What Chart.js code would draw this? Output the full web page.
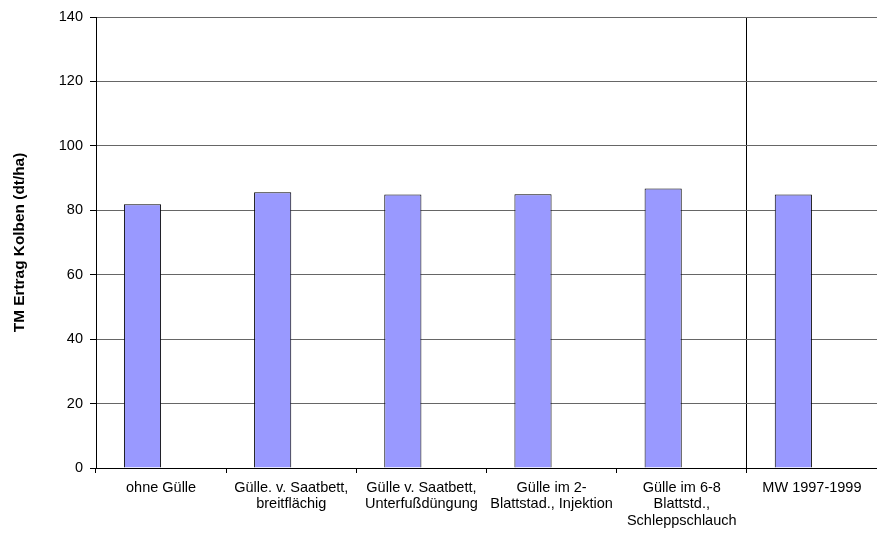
<!DOCTYPE html>
<html>
<head>
<meta charset="utf-8">
<script src="https://cdn.jsdelivr.net/npm/chart.js@4/dist/chart.umd.min.js"></script>
<style>
  html, body { margin: 0; padding: 0; background: #fff; }
  #wrap { width: 877px; height: 533px; position: relative; }
</style>
</head>
<body>
<div id="wrap"><canvas id="chart"></canvas></div>
<script>
const categories = [
    'ohne Gülle',
    ['Gülle. v. Saatbett,', 'breitflächig'],
    ['Gülle v. Saatbett,', 'Unterfußdüngung'],
    ['Gülle im 2-', 'Blattstad., Injektion'],
    ['Gülle im 6-8', 'Blattstd.,', 'Schleppschlauch'],
    'MW 1997-1999'
];
const ertragValues = [81.9, 85.6, 84.9, 85.0, 86.8, 84.9];
const emptyValues = [null, null, null, null, null, null];
const yTicks = [0, 20, 40, 60, 80, 100, 120, 140];

const family = "'Liberation Sans', Arial, sans-serif";
Chart.defaults.font.family = family;
Chart.defaults.color = '#000';

const ctx = document.getElementById('chart').getContext('2d');
new Chart(ctx, {
    type: 'bar',
    data: {
        labels: categories,
        datasets: [
            {
                label: 'TM Ertrag Kolben',
                data: ertragValues,
                backgroundColor: '#9999ff',
                borderColor: '#000',
                borderWidth: 1
            },
            {
                label: '',
                data: emptyValues
            }
        ]
    },
    options: {
        responsive: true,
        maintainAspectRatio: false,
        animation: false,
        categoryPercentage: 0.571,
        barPercentage: 1,
        layout: { padding: { top: 17, right: 0, left: 0, bottom: 0 } },
        plugins: {
            legend: { display: false },
            tooltip: { enabled: false }
        },
        scales: {
            x: {
                offset: true,
                afterFit(scale) { scale.height = 65; },
                grid: {
                    offset: true,
                    tickLength: 5,
                    color: c => c.index === 5 ? '#000' : 'rgba(0,0,0,0)',
                    tickColor: '#000'
                },
                border: { color: '#000', width: 1 },
                ticks: {
                    maxRotation: 0,
                    autoSkip: false,
                    padding: 7,
                    font: { size: 14.5, lineHeight: 1.12 }
                }
            },
            y: {
                min: 0,
                max: 140,
                afterFit(scale) { scale.width = 96; },
                afterBuildTicks(scale) { scale.ticks = yTicks.map(v => ({ value: v })); },
                grid: { color: '#666', tickLength: 6, tickColor: '#000' },
                border: { color: '#000', width: 1 },
                ticks: { padding: 7, font: { size: 14.5 } },
                title: {
                    display: true,
                    text: 'TM Ertrag Kolben (dt/ha)',
                    font: { size: 15.4, weight: 'bold', lineHeight: 1.2 },
                    padding: { top: 11, bottom: 0 }
                }
            }
        }
    }
});
</script>
</body>
</html>
